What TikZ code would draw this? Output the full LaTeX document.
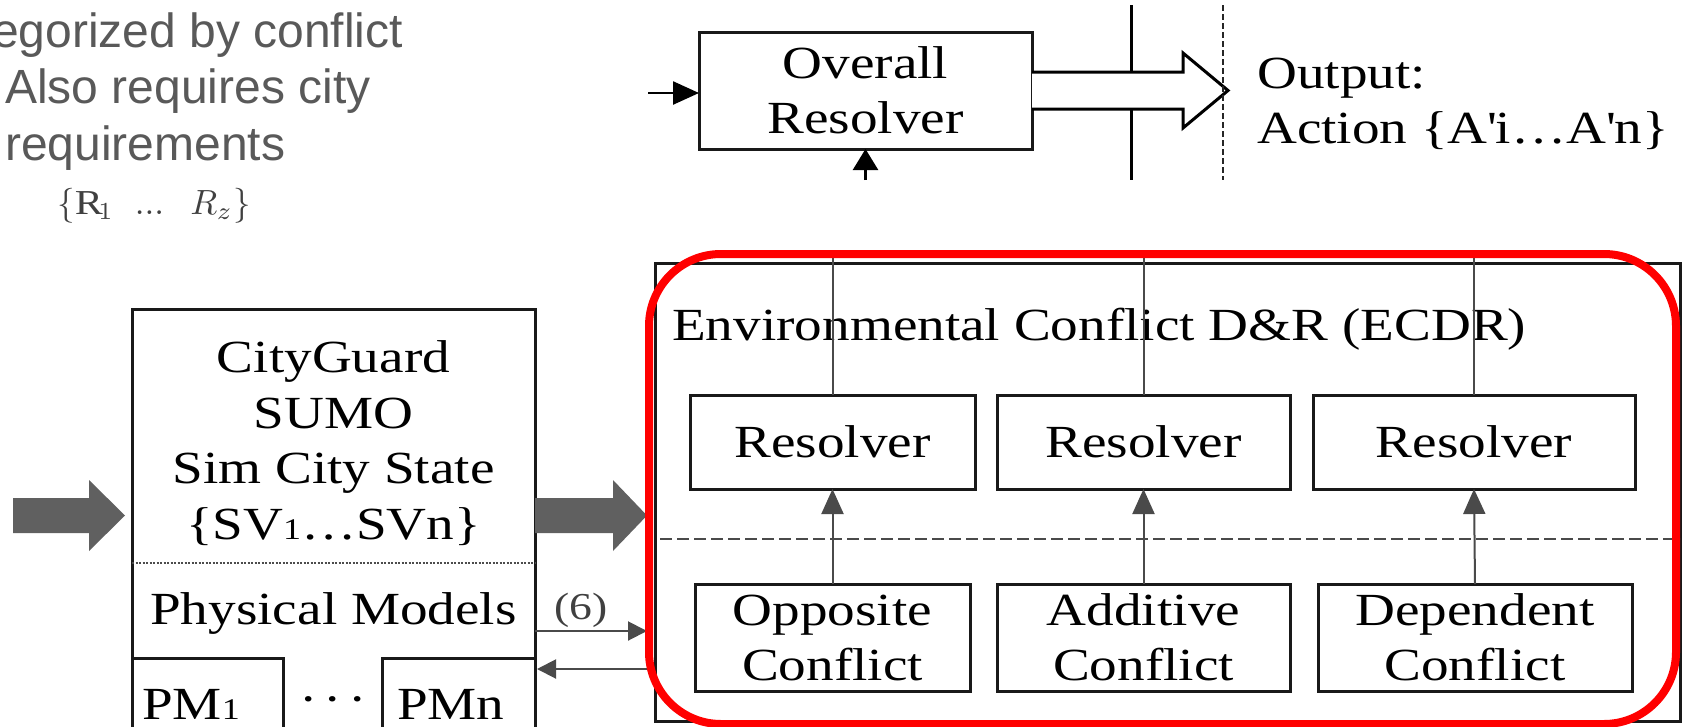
\documentclass[tikz,border=0pt]{standalone}
\usepackage{graphicx}
\usepackage{fontspec}
\setmainfont{Liberation Serif}[FakeStretch=1.2]
\newfontfamily\notefont{Liberation Sans}
\usetikzlibrary{arrows.meta,calc}

\definecolor{notegray}{HTML}{595959}
\definecolor{blockgray}{HTML}{606060}
\definecolor{wiregray}{HTML}{4A4A4A}
\definecolor{hlred}{HTML}{FF0000}

\tikzset{
  serif/.style={font=\fontsize{46}{55}\selectfont},
  box/.style={draw=black!90, line width=3pt, inner sep=0pt, outer sep=0pt, align=center, serif},
  lbl/.style={inner sep=0pt, serif},
  note/.style={inner sep=0pt, text=notegray, font=\notefont\fontsize{48}{56}\selectfont},
  wire/.style={draw=wiregray, line width=2pt},
  upwire/.style={wire, -{Triangle[length=25pt,width=22pt]}},
  sidewire/.style={wire, -{Triangle[length=19pt,width=19pt]}},
  blackwire/.style={draw=black, line width=2.5pt, -{Triangle[length=26pt,width=23pt]}},
  blockarrow/.style={fill=blockgray},
  hollow/.style={draw=black, line width=3pt, line join=miter},
  highlight/.style={draw=hlred, line width=8pt, rounded corners=72pt, inner sep=0pt, outer sep=0pt},
}

\begin{document}
\begin{tikzpicture}[x=1pt,y=-1pt]
\useasboundingbox (0,0) rectangle (1682,726);
\fill[white] (0,0) rectangle (1682,726);

% ---- notes at the top left ----
\node[note, anchor=base west] (n1) at (-8,47) {egorized by conflict};
\node[note, anchor=base west] (n2) at (5,103) {Also requires city};
\node[note, anchor=base west] (n3) at (5,160) {requirements};
\node[inner sep=0pt, text=black!75, anchor=base] (rq) at (154,214)
  {\scalebox{3.5}{$\{\mathrm{R}_1\hspace{0.6em}...\hspace{0.75em}R_z\}$}};

% ---- overall resolver ----
\coordinate (barT) at (1131,5);
\coordinate (barB) at (1131,180);
\draw[line width=3pt] (barT) -- (barB);

\node[box, minimum width=333pt, minimum height=117pt] (ovr) at (865.5,90.5) {Overall\\Resolver};
\coordinate (ovrIn) at (648,93);
\draw[blackwire] (ovrIn) -- (ovrIn -| ovr.west);
\coordinate (ovrUp) at (865.5,180);
\draw[blackwire, -{Triangle[length=21pt,width=25pt]}] (ovrUp) -- (ovr.south);

% hollow output arrow
\coordinate (oe) at (ovr.east);
\fill[white] ($(oe)+(0,-18.5)$) -- ($(oe)+(151,-18.5)$) -- ($(oe)+(151,-37.5)$) -- ($(oe)+(196,0)$)
  -- ($(oe)+(151,37.5)$) -- ($(oe)+(151,18.5)$) -- ($(oe)+(0,18.5)$) -- cycle;
\draw[hollow] ($(oe)+(0,-18.5)$) -- ($(oe)+(151,-18.5)$) -- ($(oe)+(151,-37.5)$) -- ($(oe)+(196,0)$)
  -- ($(oe)+(151,37.5)$) -- ($(oe)+(151,18.5)$) -- ($(oe)+(0,18.5)$);

\coordinate (dashT) at (1223,5);
\coordinate (dashB) at (1223,180);
\draw[line width=2pt, black!85, dash pattern=on 6pt off 3pt] (dashT) -- (dashB);

\node[lbl, anchor=base west] (out1) at (1257,88) {Output:};
\node[lbl, anchor=base west] (out2) at (1257,143) {Action \{A\textquotesingle i\ldots A\textquotesingle n\}};

% ---- simulated city ----
\node[box, anchor=north west, minimum width=403pt, minimum height=450pt] (city) at (132,309) {};
\node[lbl, anchor=base] (ct1) at (333.5,372) {CityGuard};
\node[lbl, anchor=base] (ct2) at (333.5,428) {SUMO};
\node[lbl, anchor=base] (ct3) at (333.5,483) {Sim City State};
\node[lbl, anchor=base] (ct4) at (333.5,539) {\{SV{\fontsize{30}{30}\selectfont 1}\ldots SVn\}};

\coordinate (sepY) at (0,563);
\draw[line width=1.2pt, black!70, dash pattern=on 2pt off 1.5pt] (city.west |- sepY) -- (city.east |- sepY);

\node[lbl, anchor=base] (phys) at (333.5,624) {Physical Models};
\node[box, anchor=north west, minimum width=151pt, minimum height=100pt] (pm1) at (132,658) {};
\node[box, anchor=north west, minimum width=153pt, minimum height=100pt] (pmn) at (382,658) {};
\node[lbl, anchor=base west] (pm1t) at (142,719) {PM{\fontsize{30}{30}\selectfont 1}};
\node[lbl, anchor=base west] (pmnt) at (397,719) {PMn};
\node[lbl, anchor=base] (pmdots) at (333,714) {\textperiodcentered\hspace{6pt}\textperiodcentered\hspace{6pt}\textperiodcentered};

% grey block arrows
\coordinate (shaftTop) at (0,498);
\coordinate (shaftBot) at (0,533);
\fill[blockarrow] (13,498) -- (89,498) -- (89,480) -- (125,515.5) -- (89,551) -- (89,533) -- (13,533) -- cycle;
\fill[blockarrow] (city.east |- shaftTop) -- (613,498) -- (613,480) -- (647,515.5) -- (613,551) -- (613,533) -- (city.east |- shaftBot) -- cycle;

% ---- environmental conflict detection and resolution ----
\node[box, anchor=north west, minimum width=1025pt, minimum height=458pt] (ecdr) at (655,263) {};
\node[lbl, anchor=base west] (ttl) at (672,340) {Environmental Conflict D\&R (ECDR)};

\node[box, minimum width=285pt, minimum height=94pt] (r1) at (832.5,442) {Resolver};
\node[box, minimum width=293pt, minimum height=94pt] (r2) at (1143.5,442) {Resolver};
\node[box, minimum width=322pt, minimum height=94pt] (r3) at (1474,442) {Resolver};

\node[box, minimum width=275pt, minimum height=107pt] (k1) at (832.5,637.5) {Opposite\\Conflict};
\node[box, minimum width=293pt, minimum height=107pt] (k2) at (1143.5,637.5) {Additive\\Conflict};
\node[box, minimum width=314pt, minimum height=107pt] (k3) at (1475,637.5) {Dependent\\Conflict};

\coordinate (topY) at (0,256);
\draw[wire] (r1.north) -- (r1.north |- topY);
\draw[wire] (r2.north) -- (r2.north |- topY);
\draw[wire] (r3.north) -- (r3.north |- topY);

\draw[upwire] (k1.north) -- (r1.south);
\draw[upwire] (k2.north) -- (r2.south);
\draw[upwire] (k3.north) -- (r3.south);

\coordinate (dashY) at (0,539);
\draw[draw=wiregray, line width=2.5pt, dash pattern=on 12pt off 5pt] ([xshift=5pt]ecdr.west |- dashY) -- (ecdr.east |- dashY);

% exchange with the physical models
\coordinate (sixY) at (0,631);
\coordinate (backY) at (0,669);
\draw[sidewire, shorten >=8pt] (city.east |- sixY) -- (ecdr.west |- sixY);
\draw[sidewire, shorten <=8pt, shorten >=2pt] (ecdr.west |- backY) -- (city.east |- backY);
\node[inner sep=0pt, text=black!75, font=\fontsize{38}{40}\selectfont, anchor=base] (six) at (581,619) {(6)};

% highlight frame
\node[highlight, minimum width=1027pt, minimum height=470pt] (hl) at (1162.5,489) {};
\end{tikzpicture}
\end{document}
